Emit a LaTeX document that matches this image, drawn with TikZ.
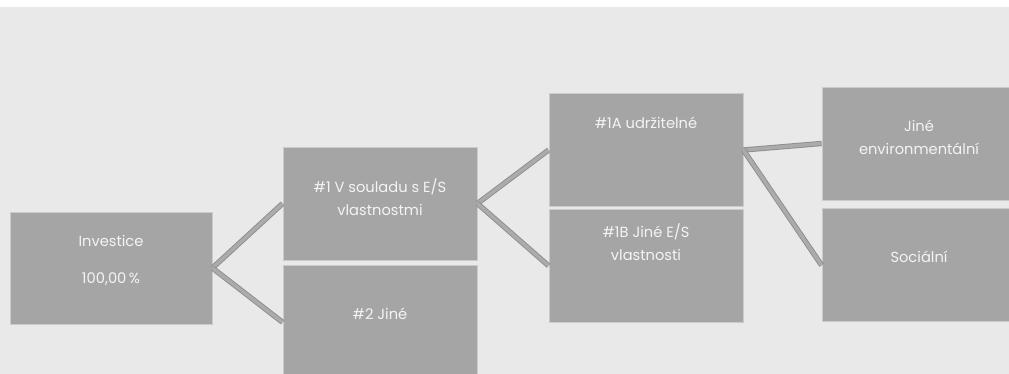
\documentclass[tikz,border=0pt]{standalone}
\usepackage{fontspec}
\setmainfont{Poppins}
\usetikzlibrary{positioning}
\definecolor{bggray}{HTML}{E9E9E9}
\definecolor{boxgray}{HTML}{A5A5A5}
\definecolor{edgegray}{HTML}{CBCBCB}
\definecolor{txtgray}{HTML}{F4F4F4}
\definecolor{linkgray}{HTML}{8E8E8E}
\definecolor{linkcore}{HTML}{ABABAB}

\begin{document}
\begin{tikzpicture}[
  x=0.75pt, y=-0.75pt,
  box/.style={draw=edgegray, fill=boxgray, line width=0.6pt,
    minimum width=145.5pt, minimum height=84.75pt, inner sep=0pt},
  lbl/.style={align=center, inner sep=0pt, text=txtgray, font=\fontsize{11}{17.2}\selectfont},
  link/.style={draw=linkgray, line width=0.7pt, double=linkcore, double distance=2.6pt}
]
\useasboundingbox (0,0) rectangle (1009,374);
\clip (0,0) rectangle (1009,374);
\fill[bggray] (0,7.5) rectangle (1009,374);

% boxes
\node[box, minimum width=151.5pt, minimum height=84pt] (inv) at (111,268) {};
\node[box] (c1) at (380,203.5) {};
\node[box, below=3.75pt of c1] (c2) {};
\node[box] (c1a) at (646,150) {};
\node[box, below=1.5pt of c1a] (c1b) {};
\node[box] (env) at (919,143.5) {};
\node[box, below=6pt of env] (soc) {};

% texts
\node[lbl, below=17.3pt of inv.north] (invtxt) {Investice\\[11pt]100,00\,\%};
\node[lbl, below=24.1pt of c1.north] (c1txt) {\#1 V souladu s E/S\\vlastnostmi};
\node[lbl, below=31.6pt of c2.north] (c2txt) {\#2 Jiné};
\node[lbl, below=18.1pt of c1a.north] (c1atxt) {\#1A udržitelné};
\node[lbl, below=10.6pt of c1b.north] (c1btxt) {\#1B Jiné E/S\\vlastnosti};
\node[lbl, below=24.8pt of env.north] (envtxt) {Jiné\\environmentální};
\node[lbl, below=31.6pt of soc.north] (soctxt) {Sociální};

% connectors
\draw[link] (inv.east) -- (c1.west);
\draw[link] (inv.east) -- (c2.west);
\draw[link] (c1.east) -- (c1a.west);
\draw[link] (c1.east) -- (c1b.west);
\draw[link] (c1a.east) -- (env.west);
\draw[link] (c1a.east) -- (soc.west);
\end{tikzpicture}
\end{document}
